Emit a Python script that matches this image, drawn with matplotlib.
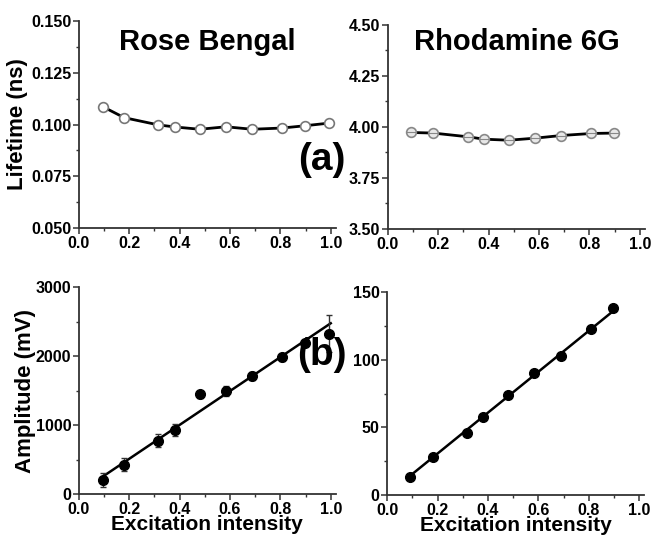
import numpy as np
import matplotlib
matplotlib.use('Agg')
import matplotlib.pyplot as plt
from matplotlib.ticker import MultipleLocator, FormatStrFormatter

plt.rcParams['font.family'] = ['Liberation Sans', 'DejaVu Sans']
plt.rcParams['font.weight'] = 'bold'

# excitation intensity (fraction)
x_rb = [0.095, 0.18, 0.316, 0.382, 0.48, 0.584, 0.688, 0.807, 0.898, 0.995]
x_r6g = [0.09, 0.18, 0.316, 0.382, 0.48, 0.584, 0.688, 0.807, 0.898]

# lifetimes (ns)
life_rb = [0.1086, 0.1033, 0.0998, 0.0988, 0.0977, 0.0989, 0.0977, 0.0983, 0.0994, 0.1007]
life_r6g = [3.973, 3.970, 3.952, 3.940, 3.935, 3.945, 3.958, 3.968, 3.970]
life_r6g_err = [0.012, 0.012, 0.012, 0.012, 0.012, 0.012, 0.012, 0.012, 0.012]

# amplitudes (mV)
amp_rb = [203, 425, 775, 926, 1447, 1495, 1707, 1980, 2195, 2325]
amp_rb_err = [100, 95, 90, 90, 50, 75, 60, 50, 40, 265]
amp_r6g = [13.5, 27.8, 45.5, 57.8, 74.0, 90.5, 102.5, 123.0, 138.4]

# linear fits (slope, intercept)
fit_rb = (2455.0, 20.0)
fit_r6g = (151.0, 0.5)

fig = plt.figure(figsize=(6.52, 5.37), dpi=100)
ax1 = fig.add_axes([0.121, 0.5754, 0.394, 0.3855])
ax2 = fig.add_axes([0.595, 0.5736, 0.394, 0.380])
ax3 = fig.add_axes([0.121, 0.080, 0.394, 0.3855])
ax4 = fig.add_axes([0.594, 0.0782, 0.394, 0.378])

spine_col = '#333333'
for ax in [ax1, ax2, ax3, ax4]:
    ax.spines['top'].set_visible(False)
    ax.spines['right'].set_visible(False)
    for s in ['left', 'bottom']:
        ax.spines[s].set_color(spine_col)
        ax.spines[s].set_linewidth(1.3)
    ax.set_xlim(0, 1.02)
    ax.xaxis.set_major_locator(MultipleLocator(0.2))
    ax.xaxis.set_minor_locator(MultipleLocator(0.1))
    ax.xaxis.set_major_formatter(FormatStrFormatter('%.1f'))
    ax.tick_params(which='major', direction='out', length=4, width=1.1,
                   color=spine_col, labelsize=11.5, pad=1.5)
    ax.tick_params(which='minor', direction='out', length=2.5, width=1.0,
                   color=spine_col)

# (a) Rose Bengal lifetime
ax1.plot(x_rb, life_rb, '-', color='black', lw=2, zorder=2)
ax1.plot(x_rb, life_rb, 'o', ms=7, mfc='white', mec='#777777', mew=1.2, zorder=3)
ax1.set_ylim(0.05, 0.15)
ax1.yaxis.set_major_locator(MultipleLocator(0.025))
ax1.yaxis.set_minor_locator(MultipleLocator(0.0125))
ax1.yaxis.set_major_formatter(FormatStrFormatter('%.3f'))
ax1.set_ylabel('Lifetime (ns)', fontsize=16, fontweight='bold', labelpad=2)
ax1.text(0.5, 0.965, 'Rose Bengal', transform=ax1.transAxes, ha='center', va='top',
         fontsize=21, fontweight='bold')

# (a) Rhodamine 6G lifetime
ax2.plot(x_r6g, life_r6g, '-', color='black', lw=2, zorder=2)
ax2.errorbar(x_r6g, life_r6g, yerr=life_r6g_err, fmt='o', ms=7, mfc='#e8e8e8',
             mec='#888888', mew=1.2, ecolor='#888888', elinewidth=0.8, capsize=0,
             zorder=3)
ax2.plot(x_r6g, life_r6g, '_', ms=7, color='#888888', mew=0.8, zorder=4)
ax2.set_ylim(3.5, 4.5)
ax2.yaxis.set_major_locator(MultipleLocator(0.25))
ax2.yaxis.set_minor_locator(MultipleLocator(0.125))
ax2.yaxis.set_major_formatter(FormatStrFormatter('%.2f'))
ax2.text(0.5, 0.985, 'Rhodamine 6G', transform=ax2.transAxes, ha='center', va='top',
         fontsize=21, fontweight='bold')

# (b) Rose Bengal amplitude
xf = np.array([x_rb[0], 1.0])
ax3.plot(xf, fit_rb[0] * xf + fit_rb[1], '-', color='black', lw=1.8, zorder=2)
ax3.errorbar(x_rb, amp_rb, yerr=amp_rb_err, fmt='o', ms=7, color='black',
             ecolor='#333333', elinewidth=1, capsize=2.5, capthick=1, zorder=3)
ax3.set_ylim(0, 3000)
ax3.yaxis.set_major_locator(MultipleLocator(1000))
ax3.yaxis.set_minor_locator(MultipleLocator(500))
ax3.set_ylabel('Amplitude (mV)', fontsize=16, fontweight='bold', labelpad=0)
ax3.set_xlabel('Excitation intensity', fontsize=15, fontweight='bold', labelpad=-1)

# (b) Rhodamine 6G amplitude
xf2 = np.array([x_r6g[0], x_r6g[-1]])
ax4.plot(xf2, fit_r6g[0] * xf2 + fit_r6g[1], '-', color='black', lw=1.8, zorder=2)
ax4.plot(x_r6g, amp_r6g, 'o', ms=7, color='black', zorder=3)
ax4.set_ylim(0, 150)
ax4.yaxis.set_major_locator(MultipleLocator(50))
ax4.yaxis.set_minor_locator(MultipleLocator(25))
ax4.set_xlabel('Excitation intensity', fontsize=15, fontweight='bold', labelpad=-1)

for ax in [ax1, ax2, ax3, ax4]:
    for lab in ax.get_xticklabels() + ax.get_yticklabels():
        lab.set_fontweight('bold')

fig.text(322 / 652, 1 - 160 / 537, '(a)', ha='center', va='center',
         fontsize=28, fontweight='bold')
fig.text(322 / 652, 1 - 355 / 537, '(b)', ha='center', va='center',
         fontsize=28, fontweight='bold')

fig.savefig('out.png', dpi=100, facecolor='white')
